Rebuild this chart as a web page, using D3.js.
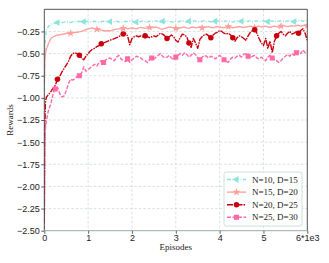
<!DOCTYPE html>
<html>
<head>
<meta charset="utf-8">
<script src="https://cdn.jsdelivr.net/npm/d3@7"></script>
<style>
  html, body { margin: 0; padding: 0; background: #fff; }
  svg { display: block; font-family: "Liberation Serif", "DejaVu Serif", serif; }
  .grid line { stroke: #c9d2d3; stroke-width: 0.7; stroke-dasharray: 2.5,2; }
  .tick text { fill: #222; font-size: 9px; }
  .tick line { stroke: #333; stroke-width: 0.8; }
</style>
</head>
<body>
<svg id="chart" width="329" height="263"></svg>
<script>
// Episode grid (x) and mean rewards, one array per setting.
const EPISODES = [0, 10, 25].concat(d3.range(50, 6001, 50));

const REWARDS_N10 = [-1.02, -0.62, -0.32,
  -0.23, -0.19, -0.17, -0.16, -0.155, -0.15, -0.145, -0.15, -0.145, -0.14,
  -0.145, -0.15, -0.14, -0.145, -0.14, -0.135, -0.145, -0.14, -0.135, -0.14,
  -0.145, -0.14, -0.135, -0.14, -0.145, -0.14, -0.135, -0.14, -0.13, -0.14,
  -0.145, -0.14, -0.135, -0.14, -0.145, -0.14, -0.135, -0.14, -0.13, -0.135,
  -0.14, -0.145, -0.135, -0.14, -0.13, -0.14, -0.145, -0.135, -0.14, -0.135,
  -0.13, -0.14, -0.145, -0.135, -0.14, -0.13, -0.135, -0.14, -0.145, -0.135,
  -0.14, -0.135, -0.13, -0.14, -0.145, -0.135, -0.14, -0.13, -0.135, -0.14,
  -0.145, -0.135, -0.13, -0.14, -0.135, -0.14, -0.145, -0.135, -0.13, -0.14,
  -0.135, -0.14, -0.13, -0.135, -0.14, -0.145, -0.135, -0.13, -0.14, -0.135,
  -0.13, -0.14, -0.135, -0.13, -0.14, -0.135, -0.13, -0.14, -0.135, -0.13,
  -0.135, -0.14, -0.13, -0.135, -0.13, -0.14, -0.135, -0.13, -0.135, -0.14,
  -0.13, -0.135, -0.13, -0.14, -0.135, -0.13, -0.125, -0.135, -0.13, -0.125];

const REWARDS_N15 = [-0.85, -0.6, -0.5,
  -0.45, -0.38, -0.33, -0.31, -0.30, -0.29, -0.29, -0.28, -0.28, -0.27,
  -0.275, -0.27, -0.265, -0.26, -0.26, -0.255, -0.25, -0.24, -0.23, -0.22,
  -0.215, -0.21, -0.22, -0.225, -0.23, -0.235, -0.24, -0.245, -0.24, -0.245,
  -0.235, -0.23, -0.225, -0.22, -0.22, -0.215, -0.21, -0.22, -0.215, -0.21,
  -0.215, -0.22, -0.21, -0.205, -0.21, -0.215, -0.21, -0.205, -0.21, -0.205,
  -0.2, -0.21, -0.22, -0.225, -0.215, -0.21, -0.2, -0.205, -0.21, -0.215,
  -0.22, -0.21, -0.205, -0.2, -0.21, -0.215, -0.205, -0.2, -0.21, -0.205,
  -0.2, -0.21, -0.205, -0.2, -0.195, -0.205, -0.21, -0.2, -0.195, -0.2,
  -0.205, -0.21, -0.2, -0.195, -0.2, -0.21, -0.205, -0.2, -0.195, -0.2,
  -0.205, -0.2, -0.195, -0.19, -0.2, -0.205, -0.195, -0.19, -0.2, -0.195,
  -0.19, -0.2, -0.205, -0.195, -0.19, -0.195, -0.2, -0.19, -0.185, -0.19,
  -0.195, -0.19, -0.185, -0.19, -0.185, -0.18, -0.19, -0.185, -0.18, -0.185];

const REWARDS_N20 = [-2.42, -1.4, -1.05,
  -0.99, -0.96, -0.93, -0.89, -0.86, -0.79, -0.76, -0.71, -0.67, -0.63,
  -0.59, -0.53, -0.50, -0.49, -0.50, -0.52, -0.55, -0.57, -0.53, -0.50,
  -0.47, -0.45, -0.44, -0.42, -0.41, -0.39, -0.38, -0.37, -0.36, -0.35,
  -0.34, -0.33, -0.32, -0.31, -0.29, -0.28, -0.27, -0.30, -0.40, -0.33,
  -0.31, -0.30, -0.31, -0.30, -0.31, -0.30, -0.31, -0.32, -0.31, -0.30,
  -0.31, -0.29, -0.27, -0.28, -0.30, -0.33, -0.31, -0.29, -0.31, -0.35,
  -0.37, -0.32, -0.28, -0.29, -0.31, -0.38, -0.43, -0.33, -0.38, -0.44,
  -0.34, -0.31, -0.29, -0.28, -0.30, -0.32, -0.29, -0.27, -0.26, -0.24,
  -0.25, -0.27, -0.28, -0.27, -0.29, -0.32, -0.36, -0.32, -0.30, -0.31,
  -0.33, -0.35, -0.30, -0.26, -0.24, -0.23, -0.27, -0.33, -0.38, -0.41,
  -0.33, -0.44, -0.36, -0.49, -0.36, -0.30, -0.27, -0.25, -0.28, -0.30,
  -0.27, -0.25, -0.28, -0.27, -0.25, -0.27, -0.24, -0.22, -0.27, -0.35];

const REWARDS_N25 = [-2.48, -1.6, -1.35,
  -1.25, -1.13, -1.07, -0.95, -0.90, -0.88, -0.95, -0.99, -0.98, -0.92,
  -0.84, -0.79, -0.80, -0.78, -0.76, -0.75, -0.72, -0.65, -0.70, -0.68,
  -0.66, -0.64, -0.62, -0.64, -0.60, -0.58, -0.60, -0.57, -0.56, -0.55,
  -0.57, -0.58, -0.54, -0.52, -0.56, -0.58, -0.59, -0.56, -0.60, -0.57,
  -0.55, -0.53, -0.54, -0.55, -0.57, -0.58, -0.60, -0.57, -0.55, -0.56,
  -0.54, -0.52, -0.50, -0.53, -0.55, -0.54, -0.52, -0.55, -0.57, -0.54,
  -0.52, -0.50, -0.52, -0.49, -0.51, -0.54, -0.52, -0.49, -0.51, -0.55,
  -0.57, -0.54, -0.52, -0.53, -0.55, -0.53, -0.54, -0.56, -0.54, -0.52,
  -0.54, -0.57, -0.59, -0.60, -0.56, -0.54, -0.55, -0.53, -0.52, -0.54,
  -0.51, -0.50, -0.53, -0.55, -0.53, -0.52, -0.55, -0.56, -0.54, -0.56,
  -0.58, -0.54, -0.52, -0.55, -0.57, -0.58, -0.60, -0.58, -0.55, -0.53,
  -0.51, -0.53, -0.50, -0.52, -0.49, -0.47, -0.50, -0.46, -0.49, -0.47];

const SERIES_LABELS = ['N=10, D=15', 'N=15, D=20', 'N=20, D=25', 'N=25, D=30'];
const Y_TICKS = [-2.5, -2.25, -2.0, -1.75, -1.5, -1.25, -1.0, -0.75, -0.5, -0.25];
const X_TICKS = [0, 1000, 2000, 3000, 4000, 5000, 6000];
const X_TICK_LABELS = ['0', '1', '2', '3', '4', '5', '6*1e3'];

// Styles per series (matplotlib-ish: '-.<', '-*', '-.o', '--s').
const STYLES = [
  { color: '#8ee3da', dash: '4,1.5,1,1.5', symbol: 'tri', size: 20, width: 1.4, every: 12, offset: 8 },
  { color: '#ff9e9a', dash: null, symbol: d3.symbolStar, size: 20, width: 1.3, every: 12, offset: 14 },
  { color: '#c8000c', dash: '6,1,1.5,1', symbol: d3.symbolCircle, size: 24, width: 1.4, every: 10, offset: 8 },
  { color: '#ff6aa6', dash: '4,1.5', symbol: d3.symbolSquare, size: 26, width: 1.4, every: 11, offset: 7 },
];
const SERIES = [REWARDS_N10, REWARDS_N15, REWARDS_N20, REWARDS_N25];

const plot = { left: 44.3, top: 9.3, right: 307.3, bottom: 230.7 };

const svg = d3.select('#chart');
const x = d3.scaleLinear().domain([0, 6000]).range([plot.left, plot.right]);
const y = d3.scaleLinear().domain([-2.5, 0]).range([plot.bottom, plot.top]);

// grid
const grid = svg.append('g').attr('class', 'grid');
grid.selectAll('line.v').data(X_TICKS.slice(1, -1)).join('line')
  .attr('x1', d => x(d)).attr('x2', d => x(d))
  .attr('y1', plot.top).attr('y2', plot.bottom);
grid.selectAll('line.h').data(Y_TICKS.slice(1)).join('line')
  .attr('x1', plot.left).attr('x2', plot.right)
  .attr('y1', d => y(d)).attr('y2', d => y(d));

// axes
const fmt = d3.format('.2f');
const yAxis = svg.append('g').attr('transform', `translate(${plot.left},0)`)
  .call(d3.axisLeft(y).tickValues(Y_TICKS).tickFormat(fmt).tickSize(3).tickPadding(1.5));
yAxis.select('.domain').remove();

const xAxis = svg.append('g').attr('transform', `translate(0,${plot.bottom})`)
  .call(d3.axisBottom(x).tickValues(X_TICKS).tickFormat((d, i) => X_TICK_LABELS[i]).tickSize(3).tickPadding(1));
xAxis.select('.domain').remove();

// lines
svg.append('clipPath').attr('id', 'clip').append('rect')
  .attr('x', plot.left).attr('y', plot.top)
  .attr('width', plot.right - plot.left).attr('height', plot.bottom - plot.top);

const lineGen = d3.line().x((d, i) => x(EPISODES[i])).y(d => y(d));
const plotG = svg.append('g').attr('clip-path', 'url(#clip)');

function symbolPath(st) {
  const type = st.symbol === 'tri' ? d3.symbolTriangle : st.symbol;
  return d3.symbol(type, st.size)();
}
function symbolTransform(st, px, py) {
  return `translate(${px},${py})` + (st.symbol === 'tri' ? ' rotate(-90)' : '');
}

SERIES.forEach((vals, s) => {
  const st = STYLES[s];
  plotG.append('path').datum(vals)
    .attr('d', lineGen)
    .attr('fill', 'none')
    .attr('stroke', st.color)
    .attr('stroke-width', st.width)
    .attr('stroke-linejoin', 'round')
    .attr('stroke-dasharray', st.dash);
  const idx = vals.map((v, i) => i).filter(i => i >= st.offset && (i - st.offset) % st.every === 0);
  plotG.selectAll(null).data(idx).join('path')
    .attr('d', symbolPath(st))
    .attr('transform', i => symbolTransform(st, x(EPISODES[i]), y(vals[i])))
    .attr('fill', st.color);
});

// spines
const spines = svg.append('g').attr('fill', 'none');
spines.append('path').attr('d', `M${plot.left},${plot.bottom}V${plot.top}H${plot.right}V${plot.bottom}`)
  .attr('stroke', '#3d3d3d').attr('stroke-width', 0.9);
spines.append('line').attr('x1', plot.left).attr('x2', plot.right)
  .attr('y1', plot.bottom).attr('y2', plot.bottom)
  .attr('stroke', '#8fa3a6').attr('stroke-width', 0.9);

// axis labels
svg.append('text').attr('x', (plot.left + plot.right) / 2).attr('y', 250)
  .attr('text-anchor', 'middle').attr('font-size', 9).attr('fill', '#222').text('Episodes');
svg.append('text').attr('transform', `translate(13,${(plot.top + plot.bottom) / 2}) rotate(-90)`)
  .attr('text-anchor', 'middle').attr('font-size', 9).attr('fill', '#222').text('Rewards');

// legend
const lg = svg.append('g').attr('transform', 'translate(224,172)');
lg.append('rect').attr('width', 78).attr('height', 54).attr('rx', 2)
  .attr('fill', '#fff').attr('fill-opacity', 0.85)
  .attr('stroke', '#c3d6d6').attr('stroke-width', 0.8);
SERIES_LABELS.forEach((label, s) => {
  const st = STYLES[s];
  const ry = 7.5 + s * 12.6;
  lg.append('line').attr('x1', 3).attr('x2', 22).attr('y1', ry).attr('y2', ry)
    .attr('stroke', st.color).attr('stroke-width', st.width).attr('stroke-dasharray', st.dash);
  lg.append('path').attr('d', symbolPath(st))
    .attr('transform', symbolTransform(st, 12.5, ry))
    .attr('fill', st.color);
  lg.append('text').attr('x', 28).attr('y', ry + 3).attr('font-size', 9).attr('fill', '#222').text(label);
});
</script>
</body>
</html>
